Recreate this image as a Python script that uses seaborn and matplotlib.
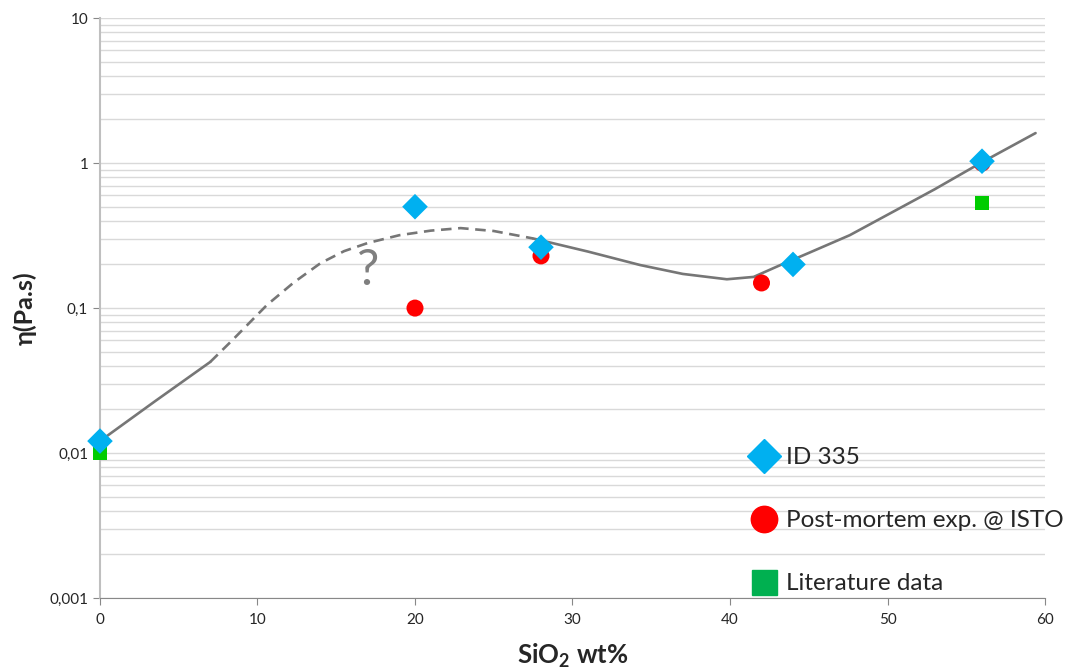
import matplotlib
matplotlib.use('Agg')
import matplotlib.pyplot as plt
import seaborn as sns
from matplotlib.lines import Line2D
from matplotlib.ticker import LogLocator

# measured points
id335_x = [0, 20, 28, 44, 56]
id335_y = [0.0121, 0.50, 0.263, 0.20, 1.03]
isto_x = [20, 28, 42, 56]
isto_y = [0.10, 0.229, 0.149, 1.0]
lit_x = [0, 56]
lit_y = [0.010, 0.53]

# trend curve (solid / dashed / solid)
trend_a_x = [0, 3.5, 7.0]
trend_a_y = [0.0121, 0.0228, 0.0425]
trend_b_x = [7.0, 8.4, 10.6, 12.3, 14.0, 15.5, 17.0, 19.0, 21.0, 22.9, 25.0, 27.5]
trend_b_y = [0.0425, 0.060, 0.105, 0.150, 0.204, 0.247, 0.281, 0.318, 0.342, 0.356, 0.340, 0.302]
trend_c_x = [27.5, 31.0, 34.3, 37.0, 39.8, 41.5, 43.2, 45.0, 47.6, 50.0, 53.0, 55.9, 59.4]
trend_c_y = [0.302, 0.245, 0.198, 0.172, 0.158, 0.164, 0.198, 0.240, 0.318, 0.44, 0.66, 1.0, 1.61]

labels = ['ID 335', 'Post-mortem exp. @ ISTO', 'Literature data']
y_ticks = [0.001, 0.01, 0.1, 1, 10]
y_ticklabels = ['0,001', '0,01', '0,1', '1', '10']

sns.set_style('white')
plt.rcParams['font.family'] = ['Lato', 'DejaVu Sans']
plt.rcParams['mathtext.fontset'] = 'custom'
plt.rcParams['mathtext.rm'] = 'Lato'
plt.rcParams['mathtext.bf'] = 'Lato:bold'

fig = plt.figure(figsize=(10.67, 6.69), dpi=100)
ax = fig.add_axes([0.0937, 0.106, 0.8857, 0.867])

ax.set_yscale('log')
ax.set_xlim(0, 60)
ax.set_ylim(0.001, 10)

# gridlines
ax.yaxis.set_minor_locator(LogLocator(base=10, subs=range(2, 10)))
ax.grid(True, axis='y', which='both', color='#d9d9d9', linewidth=1.0)
ax.set_axisbelow(True)

gray = '#767676'
sns.lineplot(x=trend_a_x, y=trend_a_y, ax=ax, color=gray, linewidth=1.9, sort=False)
sns.lineplot(x=trend_b_x, y=trend_b_y, ax=ax, color=gray, linewidth=1.9, sort=False,
             linestyle=(0, (4, 2.5)))
sns.lineplot(x=trend_c_x, y=trend_c_y, ax=ax, color=gray, linewidth=1.9, sort=False)

sns.scatterplot(x=lit_x, y=lit_y, ax=ax, marker='s', s=110, color='#00cc00',
                edgecolor='none', zorder=3, clip_on=False)
sns.scatterplot(x=isto_x, y=isto_y, ax=ax, marker='o', s=150, color='#ff0000',
                edgecolor='none', zorder=4, clip_on=False)
sns.scatterplot(x=id335_x, y=id335_y, ax=ax, marker='D', s=170, color='#00b0f0',
                edgecolor='none', zorder=5, clip_on=False)

ax.text(17.0, 0.18, '?', fontsize=36, color='#7f7f7f', ha='center', va='center')

ax.set_yticks(y_ticks)
ax.set_yticklabels(y_ticklabels)
ax.yaxis.set_minor_formatter(plt.NullFormatter())
ax.set_xticks(range(0, 61, 10))
ax.tick_params(axis='both', which='major', labelsize=11, length=5, color='#888888',
               direction='out', left=True, bottom=True)
ax.tick_params(axis='x', pad=6)
ax.tick_params(axis='y', which='minor', length=0)
for side in ['top', 'right']:
    ax.spines[side].set_visible(False)
ax.spines['left'].set_color('#bfbfbf')
ax.spines['left'].set_linewidth(1.5)
ax.spines['bottom'].set_color('#888888')

ax.set_ylabel('η(Pa.s)', fontsize=18, fontweight='bold', labelpad=9)
ax.set_xlabel(r'SiO$_\mathbf{2}$ wt%', fontsize=18.5, fontweight='bold', labelpad=10)

handles = [
    Line2D([], [], linestyle='none', marker='D', markersize=17, color='#00b0f0'),
    Line2D([], [], linestyle='none', marker='o', markersize=19, color='#ff0000'),
    Line2D([], [], linestyle='none', marker='s', markersize=18, color='#00b050'),
]
ax.legend(handles, labels, loc='lower left', bbox_to_anchor=(0.678, -0.01),
          frameon=False, fontsize=17.5, labelspacing=1.73, handletextpad=0.35,
          handlelength=1.1, borderaxespad=0)

fig.savefig('out.png', dpi=100)
